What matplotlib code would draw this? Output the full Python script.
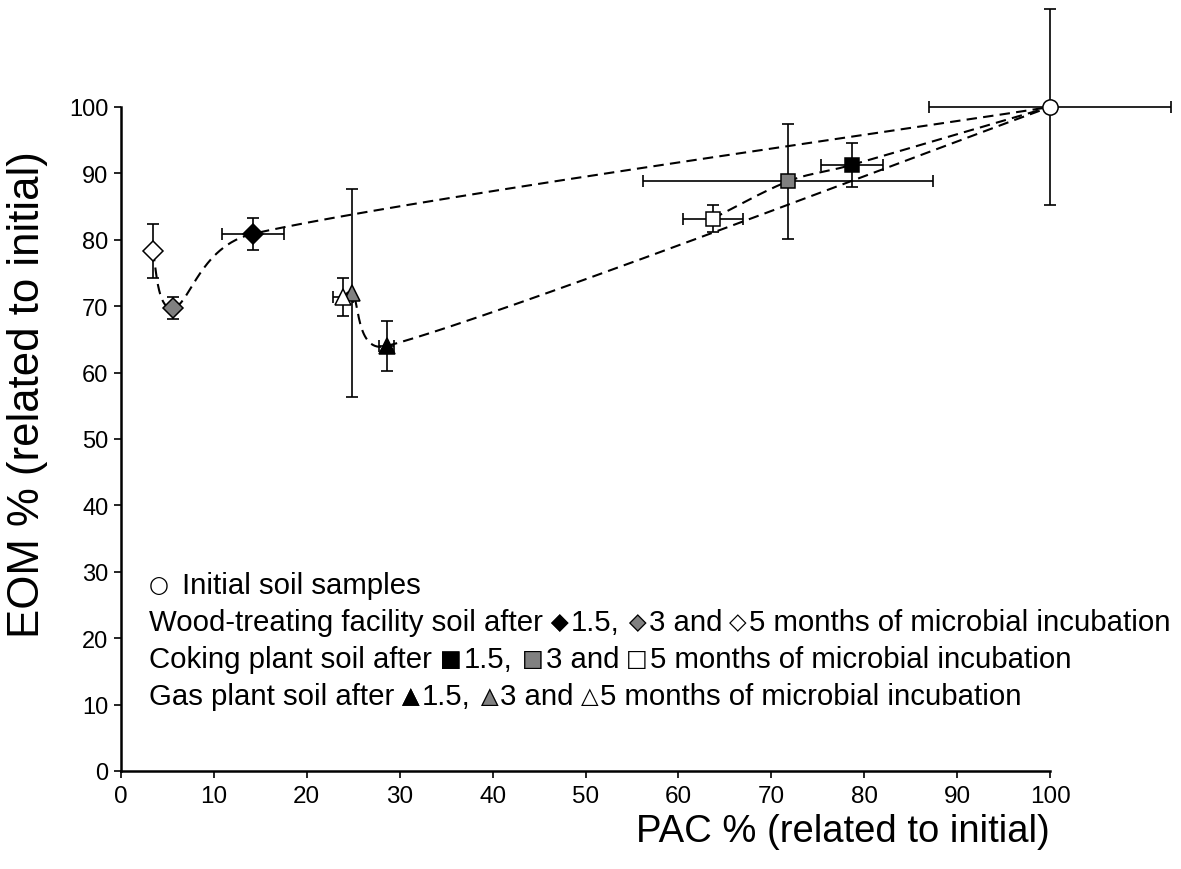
import numpy as np
import matplotlib
matplotlib.use('Agg')
import matplotlib.pyplot as plt

plt.rcParams['font.family'] = ['Liberation Sans', 'DejaVu Sans']

# ---- data ----
# order inside each soil: 1.5, 3 and 5 months of incubation
init_x, init_y = [100.0], [100.0]
init_xerr, init_yerr = [13.0], [14.7]

wood_x = [14.2, 5.6, 3.4]
wood_y = [80.9, 69.7, 78.3]
wood_xerr = [3.3, 0, 0]
wood_yerr = [2.4, 1.7, 4.1]

coke_x = [78.7, 71.8, 63.7]
coke_y = [91.3, 88.8, 83.2]
coke_xerr = [3.3, 15.6, 3.2]
coke_yerr = [3.3, 8.7, 2.1]

gas_x = [28.6, 24.9, 23.9]
gas_y = [64.0, 72.0, 71.4]
gas_xerr = [0.8, 0, 1.1]
gas_yerr = [3.7, 15.7, 2.9]

month_fill = ['black', '#808080', 'white']

W, H = 1181, 870
fig = plt.figure(figsize=(W / 100, H / 100), dpi=100)
ax = fig.add_axes([121 / W, (H - 772) / H, (1050 - 121) / W, (772 - 108) / H])
ax.set_xlim(0, 100)
ax.set_ylim(0, 100)
sx = (1050 - 121) / 100.0
sy = (772 - 108) / 100.0


def smooth_line(xs, ys, n=60):
    # spreadsheet style smoothed line (bezier, arms limited to half the chord)
    P = np.column_stack([np.asarray(xs) * sx, np.asarray(ys) * sy])
    m = len(P)
    out = [P[0]]
    t = np.linspace(0, 1, n)[1:, None]
    for i in range(m - 1):
        p0 = P[i - 1] if i > 0 else P[i]
        p1, p2 = P[i], P[i + 1]
        p3 = P[i + 2] if i + 2 < m else P[i + 1]
        d12 = np.hypot(*(p2 - p1))
        d02 = np.hypot(*(p2 - p0))
        d13 = np.hypot(*(p3 - p1))
        f1 = 1 / 6 if d02 / 6 < d12 / 2 else d12 / (2 * d02)
        f2 = 1 / 6 if d13 / 6 < d12 / 2 else d12 / (2 * d13)
        c1 = p1 + (p2 - p0) * f1
        c2 = p2 - (p3 - p1) * f2
        pts = ((1 - t) ** 3) * p1 + 3 * ((1 - t) ** 2) * t * c1 + 3 * (1 - t) * t ** 2 * c2 + t ** 3 * p2
        out.extend(pts)
    out = np.array(out)
    return out[:, 0] / sx, out[:, 1] / sy


series = [
    (wood_x, wood_y, wood_xerr, wood_yerr, 'D', 10.0),
    (coke_x, coke_y, coke_xerr, coke_yerr, 's', 9.5),
    (gas_x, gas_y, gas_xerr, gas_yerr, '^', 11.5),
]

for xs, ys, xe, ye, mk, ms in series:
    cx, cy = smooth_line(xs[::-1] + init_x, ys[::-1] + init_y)
    ax.plot(cx, cy, color='black', lw=1.5, dashes=(5, 3), zorder=2, clip_on=False)

for xs, ys, xe, ye, mk, ms in series + [(init_x, init_y, init_xerr, init_yerr, 'o', 11.0)]:
    for i in range(len(xs)):
        eb = ax.errorbar(xs[i], ys[i], xerr=xe[i] if xe[i] > 0 else None, yerr=ye[i],
                         fmt='none', ecolor='black', elinewidth=1.2, capsize=4.5,
                         capthick=1.2, zorder=3)
        for child in eb.get_children():
            child.set_clip_on(False)
        fc = 'white' if mk == 'o' else month_fill[i]
        ax.plot(xs[i], ys[i], marker=mk, ms=ms, mfc=fc, mec='black', mew=1.1,
                ls='none', zorder=4, clip_on=False)

for s in ['top', 'right']:
    ax.spines[s].set_visible(False)
for s in ['left', 'bottom']:
    ax.spines[s].set_linewidth(1.8)
ax.set_xticks(np.arange(0, 101, 10))
ax.set_yticks(np.arange(0, 101, 10))
ax.tick_params(axis='both', direction='out', length=5, width=1.2, color='black')
ax.tick_params(axis='x', labelsize=17.5, pad=5)
ax.tick_params(axis='y', labelsize=17, pad=4)

fig.text(1050 / W, 1 - 832 / H, 'PAC % (related to initial)', fontsize=27.5,
         ha='right', va='center')
fig.text(28 / W, 1 - 395 / H, 'EOM % (related to initial)', fontsize=31.5,
         ha='center', va='center', rotation=90)

# ---- legend written as text with symbols ----
fig.canvas.draw()
renderer = fig.canvas.get_renderer()
legend_fs = 21.2
sym_fs = 16.5

rows = [
    [('sym', 'o', 'white'), ('gap', 13), ('txt', 'Initial soil samples')],
    [('txt', 'Wood-treating facility soil after'), ('gap', 8), ('sym', 'D', 'black'), ('gap', 2),
     ('txt', '1.5,'), ('gap', 10), ('sym', 'D', '#808080'), ('gap', 2), ('txt', '3 and'), ('gap', 7),
     ('sym', 'D', 'white'), ('gap', 2), ('txt', '5 months of microbial incubation')],
    [('txt', 'Coking plant soil after'), ('gap', 8), ('sym', 's', 'black'), ('gap', 2),
     ('txt', '1.5,'), ('gap', 10), ('sym', 's', '#808080'), ('gap', 2), ('txt', '3 and'), ('gap', 7),
     ('sym', 's', 'white'), ('gap', 2), ('txt', '5 months of microbial incubation')],
    [('txt', 'Gas plant soil after'), ('gap', 8), ('sym', '^', 'black'), ('gap', 2),
     ('txt', '1.5,'), ('gap', 10), ('sym', '^', '#808080'), ('gap', 2), ('txt', '3 and'), ('gap', 7),
     ('sym', '^', 'white'), ('gap', 2), ('txt', '5 months of microbial incubation')],
]
glyph_fill = {'o': '\u25cf', 'D': '\u25c6', 's': '\u25a0', '^': '\u25b2'}
glyph_edge = {'o': '\u25cb', 'D': '\u25c7', 's': '\u25a1', '^': '\u25b3'}

row_y = [586, 623, 660, 697]
for row, yp in zip(rows, row_y):
    xp = 149
    for piece in row:
        if piece[0] == 'gap':
            xp += piece[1]
            continue
        if piece[0] == 'txt':
            t = fig.text(xp / W, 1 - yp / H, piece[1], fontsize=legend_fs, ha='left', va='center')
        else:
            kind, fill = piece[1], piece[2]
            if fill != 'white':
                fig.text(xp / W, 1 - yp / H, glyph_fill[kind], fontsize=sym_fs, color=fill,
                         family='DejaVu Sans', ha='left', va='center')
            if fill == 'black':
                t = fig.text(xp / W, 1 - yp / H, glyph_fill[kind], fontsize=sym_fs, color='black',
                             family='DejaVu Sans', ha='left', va='center')
            else:
                t = fig.text(xp / W, 1 - yp / H, glyph_edge[kind], fontsize=sym_fs, color='black',
                             family='DejaVu Sans', ha='left', va='center')
        xp += t.get_window_extent(renderer).width

fig.savefig('out.png', dpi=100)
